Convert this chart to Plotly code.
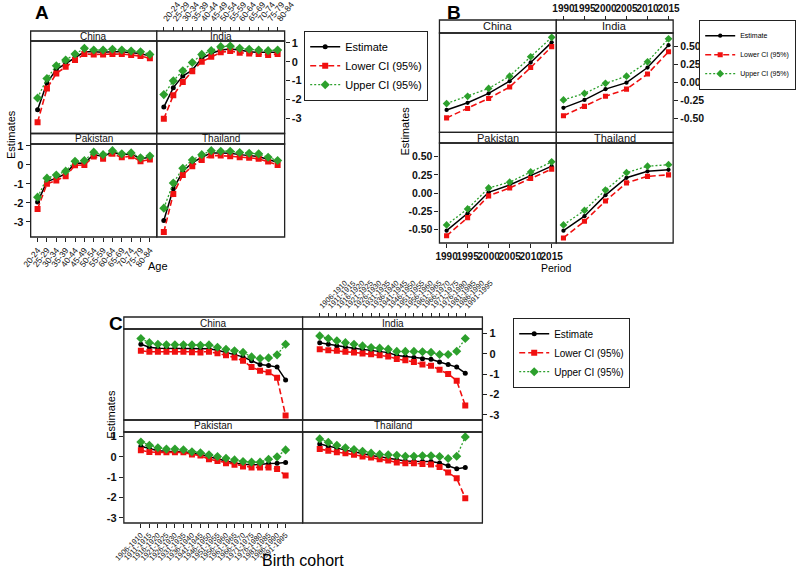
import plotly.graph_objects as go

W, H = 796, 576
FONT = "Liberation Sans, Arial, sans-serif"

countries = ["China", "India", "Pakistan", "Thailand"]
series_names = ["Estimate", "Lower CI (95%)", "Upper CI (95%)"]

# ---------------- Panel A : Age ----------------
age_labels = ["20-24", "25-29", "30-34", "35-39", "40-44", "45-49", "50-54",
              "55-59", "60-64", "65-69", "70-74", "75-79", "80-84"]
age_est = {
    "China":    [-2.54, -1.12, -0.41, -0.09, 0.21, 0.53, 0.53, 0.50, 0.53, 0.53, 0.48, 0.44, 0.30],
    "India":    [-2.40, -1.37, -0.76, -0.44, 0.18, 0.44, 0.62, 0.67, 0.62, 0.53, 0.50, 0.48, 0.50],
    "Pakistan": [-1.96, -0.88, -0.70, -0.47, 0.10, 0.09, 0.54, 0.44, 0.67, 0.53, 0.58, 0.32, 0.40],
    "Thailand": [-2.93, -1.26, -0.35, 0.11, 0.40, 0.63, 0.63, 0.61, 0.54, 0.49, 0.44, 0.28, 0.14],
}
age_low = {
    "China":    [-3.20, -1.42, -0.62, -0.27, 0.09, 0.41, 0.39, 0.39, 0.41, 0.41, 0.36, 0.30, 0.18],
    "India":    [-3.02, -1.78, -1.07, -0.50, 0.00, 0.27, 0.50, 0.57, 0.48, 0.44, 0.41, 0.36, 0.41],
    "Pakistan": [-2.32, -1.00, -0.82, -0.60, -0.02, 0.00, 0.44, 0.32, 0.58, 0.40, 0.46, 0.19, 0.28],
    "Thailand": [-3.54, -1.53, -0.53, -0.07, 0.26, 0.49, 0.49, 0.46, 0.40, 0.37, 0.32, 0.18, 0.00],
}
age_up = {
    "China":    [-1.92, -0.89, -0.21, 0.09, 0.41, 0.71, 0.62, 0.62, 0.66, 0.62, 0.57, 0.53, 0.39],
    "India":    [-1.74, -1.01, -0.48, -0.04, 0.39, 0.59, 0.80, 0.83, 0.71, 0.66, 0.62, 0.59, 0.62],
    "Pakistan": [-1.70, -0.70, -0.53, -0.33, 0.19, 0.23, 0.67, 0.54, 0.75, 0.58, 0.63, 0.37, 0.47],
    "Thailand": [-2.28, -0.96, -0.18, 0.26, 0.54, 0.75, 0.72, 0.72, 0.65, 0.61, 0.58, 0.40, 0.23],
}

# ---------------- Panel B : Period ----------------
period_years = [1990, 1995, 2000, 2005, 2010, 2015]
per_est = {
    "China":    [-0.38, -0.28, -0.15, 0.02, 0.28, 0.56],
    "India":    [-0.35, -0.24, -0.09, 0.00, 0.21, 0.52],
    "Pakistan": [-0.52, -0.28, 0.01, 0.11, 0.24, 0.37],
    "Thailand": [-0.52, -0.32, -0.03, 0.21, 0.30, 0.32],
}
per_low = {
    "China":    [-0.49, -0.36, -0.22, -0.06, 0.21, 0.50],
    "India":    [-0.46, -0.33, -0.19, -0.09, 0.12, 0.43],
    "Pakistan": [-0.59, -0.34, -0.04, 0.07, 0.20, 0.33],
    "Thailand": [-0.62, -0.39, -0.11, 0.14, 0.23, 0.25],
}
per_up = {
    "China":    [-0.29, -0.19, -0.08, 0.09, 0.36, 0.63],
    "India":    [-0.24, -0.15, -0.01, 0.09, 0.29, 0.61],
    "Pakistan": [-0.44, -0.22, 0.07, 0.15, 0.29, 0.43],
    "Thailand": [-0.44, -0.24, 0.04, 0.28, 0.37, 0.39],
}

# ---------------- Panel C : Birth cohort ----------------
cohort_labels = ["1906-1910", "1911-1915", "1916-1920", "1921-1925", "1926-1930",
                 "1931-1935", "1936-1940", "1941-1945", "1946-1950", "1951-1955",
                 "1956-1960", "1961-1965", "1966-1970", "1971-1975", "1976-1980",
                 "1981-1985", "1986-1990", "1991-1995"]
coh_est = {
    "China":    [0.47, 0.32, 0.28, 0.27, 0.27, 0.27, 0.26, 0.26, 0.25, 0.18, 0.08, -0.02,
                 -0.15, -0.34, -0.52, -0.57, -0.65, -1.28],
    "India":    [0.55, 0.47, 0.39, 0.34, 0.28, 0.23, 0.18, 0.11, 0.06, -0.08, -0.13, -0.18,
                 -0.24, -0.27, -0.40, -0.52, -0.65, -0.95],
    "Pakistan": [0.52, 0.40, 0.30, 0.27, 0.27, 0.26, 0.18, 0.12, 0.00, -0.10, -0.22, -0.30,
                 -0.36, -0.39, -0.38, -0.33, -0.32, -0.28],
    "Thailand": [0.63, 0.52, 0.42, 0.33, 0.25, 0.15, 0.07, 0.00, -0.07, -0.15, -0.20, -0.22,
                 -0.23, -0.23, -0.30, -0.44, -0.58, -0.52],
}
coh_low = {
    "China":    [0.15, 0.10, 0.10, 0.10, 0.10, 0.10, 0.08, 0.07, 0.10, 0.03, -0.07, -0.18,
                 -0.34, -0.65, -0.83, -0.90, -1.18, -3.03],
    "India":    [0.23, 0.18, 0.15, 0.10, 0.07, 0.02, -0.02, -0.07, -0.13, -0.25, -0.32, -0.40,
                 -0.52, -0.58, -0.78, -0.99, -1.32, -2.54],
    "Pakistan": [0.32, 0.24, 0.22, 0.22, 0.22, 0.22, 0.12, 0.06, -0.12, -0.20, -0.31, -0.39,
                 -0.47, -0.52, -0.52, -0.52, -0.60, -0.92],
    "Thailand": [0.38, 0.30, 0.23, 0.18, 0.10, 0.02, -0.03, -0.12, -0.18, -0.28, -0.31, -0.31,
                 -0.35, -0.38, -0.50, -0.77, -1.05, -2.03],
}
coh_up = {
    "China":    [0.75, 0.55, 0.47, 0.45, 0.45, 0.45, 0.44, 0.42, 0.44, 0.32, 0.22, 0.15,
                 0.07, -0.15, -0.23, -0.20, -0.05, 0.47],
    "India":    [0.88, 0.75, 0.64, 0.55, 0.47, 0.39, 0.31, 0.28, 0.23, 0.12, 0.12, 0.12,
                 0.10, 0.07, -0.03, -0.03, 0.13, 0.75],
    "Pakistan": [0.73, 0.57, 0.45, 0.38, 0.38, 0.35, 0.25, 0.20, 0.10, 0.02, -0.07, -0.15,
                 -0.23, -0.26, -0.26, -0.12, 0.00, 0.34],
    "Thailand": [0.88, 0.72, 0.57, 0.45, 0.36, 0.27, 0.18, 0.12, 0.10, 0.08, 0.03, 0.03,
                 0.05, 0.05, 0.02, -0.08, 0.03, 0.98],
}

# ---------------- layout geometry (pixels) ----------------
panels = [
    dict(key="A", x=list(range(1, len(age_labels) + 1)), ticktext=age_labels,
         data=(age_est, age_low, age_up), cols=[(30.7, 157), (157, 285)],
         rows=[(31, 41, 133.5), (133.5, 144, 237)], xr=[0.26, 13.74], yr=[-3.8, 1.1],
         yt=[-3, -2, -1, 0, 1], ytext=["-3", "-2", "-1", "0", "1"], xangle=-52, xfont=8.5,
         yfont=11, stripfont=10, legend="legend", ms=1.0),
    dict(key="B", x=period_years, ticktext=[str(v) for v in period_years],
         data=(per_est, per_low, per_up), cols=[(440, 557), (557, 674)],
         rows=[(20, 33, 132.3), (132.3, 143, 243)], xr=[1988.3, 2016.1], yr=[-0.69, 0.69],
         yt=[-0.5, -0.25, 0, 0.25, 0.5], ytext=["-0.50", "-0.25", "0.00", "0.25", "0.50"],
         xangle=0, xfont=10, yfont=10.5, stripfont=11, legend="legend2", ms=0.85),
    dict(key="C", x=list(range(1, len(cohort_labels) + 1)), ticktext=cohort_labels,
         data=(coh_est, coh_low, coh_up), cols=[(124, 303), (303, 483)],
         rows=[(317, 329, 420), (420, 432, 523)], xr=[-1, 20], yr=[-3.25, 1.22],
         yt=[-3, -2, -1, 0, 1], ytext=["-3", "-2", "-1", "0", "1"], xangle=-45, xfont=7.5,
         yfont=11, stripfont=10, legend="legend3", ms=1.0),
]

def fx(px):
    return px / W

def fy(py):
    return 1 - py / H

styles = [
    dict(color="black", dash="solid", width=1.5, symbol="circle", size=5),
    dict(color="#f01010", dash="6px,3px", width=1.6, symbol="square", size=6),
    dict(color="#2ca02c", dash="2px,2px", width=1.3, symbol="diamond", size=7),
]

fig = go.Figure()
layout = {}
shapes = []
annotations = []
n = 0
for p in panels:
    numeric_x = p["key"] == "B"
    for k, country in enumerate(countries):
        n += 1
        col, row = k % 2, k // 2
        c0, c1 = p["cols"][col]
        st, pt, pb = p["rows"][row]
        xn = "x" if n == 1 else f"x{n}"
        yn = "y" if n == 1 else f"y{n}"
        xa = dict(domain=[fx(c0), fx(c1)], range=p["xr"], showgrid=False, zeroline=False,
                  showline=False, showticklabels=False, ticks="", anchor=yn,
                  tickmode="array", tickvals=p["x"], ticktext=p["ticktext"],
                  tickangle=p["xangle"],
                  tickfont=dict(family=FONT, size=p["xfont"], color="#111",
                                weight="bold" if numeric_x else "normal"),
                  ticklen=4, tickcolor="#222", automargin=False)
        ya = dict(domain=[fy(pb), fy(pt)], range=p["yr"], showgrid=False, zeroline=False,
                  showline=False, showticklabels=False, ticks="", anchor=xn,
                  tickmode="array", tickvals=p["yt"], ticktext=p["ytext"],
                  tickfont=dict(family=FONT, size=p["yfont"], color="#111", weight="bold"),
                  ticklen=4, tickcolor="#222", automargin=False)
        if country == "India":
            xa.update(anchor="free", position=fy(st), side="top", showticklabels=True,
                      ticks="outside")
            ya.update(side="right", showticklabels=True, ticks="outside")
        if country == "Pakistan":
            xa.update(side="bottom", showticklabels=True, ticks="outside")
            ya.update(side="left", showticklabels=True, ticks="outside")
        layout["xaxis" if n == 1 else f"xaxis{n}"] = xa
        layout["yaxis" if n == 1 else f"yaxis{n}"] = ya

        # strip and panel frame
        shapes.append(dict(type="rect", xref="paper", yref="paper", x0=fx(c0), x1=fx(c1),
                           y0=fy(pt), y1=fy(st), fillcolor="white",
                           line=dict(color="#222", width=1.3), layer="below"))
        shapes.append(dict(type="rect", xref="paper", yref="paper", x0=fx(c0), x1=fx(c1),
                           y0=fy(pb), y1=fy(pt), fillcolor="rgba(0,0,0,0)",
                           line=dict(color="#222", width=1.3), layer="above"))
        annotations.append(dict(text=country, xref="paper", yref="paper",
                                x=(fx(c0) + fx(c1)) / 2, y=(fy(st) + fy(pt)) / 2,
                                xanchor="center", yanchor="middle", showarrow=False,
                                font=dict(family=FONT, size=p["stripfont"], color="#111")))

        for s in range(3):
            stl = styles[s]
            fig.add_trace(go.Scatter(
                x=p["x"], y=p["data"][s][country], xaxis=xn, yaxis=yn,
                mode="lines+markers", name=series_names[s],
                legend=p["legend"], legendgroup=p["key"] + str(s), showlegend=(k == 0),
                line=dict(color=stl["color"], dash=stl["dash"], width=stl["width"]),
                marker=dict(symbol=stl["symbol"], size=stl["size"] * p["ms"], color=stl["color"]),
                hoverinfo="skip"))

# panel letters and axis titles
def ann(text, x, y, size, bold=False, angle=0):
    annotations.append(dict(text=f"<b>{text}</b>" if bold else text, xref="paper", yref="paper",
                            x=fx(x), y=fy(y), xanchor="center", yanchor="middle",
                            showarrow=False, textangle=angle,
                            font=dict(family=FONT, size=size, color="black")))

ann("A", 42, 13, 19, bold=True)
ann("B", 455, 13, 19, bold=True)
ann("C", 116, 323, 19, bold=True)
ann("Estimates", 11, 134, 11, angle=-90)
ann("Estimates", 406, 131, 11, angle=-90)
ann("Estimates", 111, 414, 11, angle=-90)
ann("Age", 158, 266, 11)
ann("Period", 557, 268, 10.5)
ann("Birth cohort", 303, 560, 16)

leg_common = dict(yanchor="top", bgcolor="white", bordercolor="#222",
                  borderwidth=1.2, tracegroupgap=0, itemwidth=30)
layout["legend"] = dict(x=fx(304), y=fy(31), xanchor="left",
                        font=dict(family=FONT, size=11, color="black"), **leg_common)
layout["legend2"] = dict(x=fx(797), y=fy(20), xanchor="right",
                         font=dict(family=FONT, size=7, color="black"), **leg_common)
layout["legend3"] = dict(x=fx(513), y=fy(318), xanchor="left",
                         font=dict(family=FONT, size=10, color="black"), **leg_common)

fig.update_layout(width=W, height=H, margin=dict(l=0, r=0, t=0, b=0),
                  paper_bgcolor="white", plot_bgcolor="white",
                  font=dict(family=FONT, color="black"),
                  shapes=shapes, annotations=annotations, **layout)

fig.write_html("out.html", config={"displayModeBar": False},
               post_script="document.body.style.margin='0';")
